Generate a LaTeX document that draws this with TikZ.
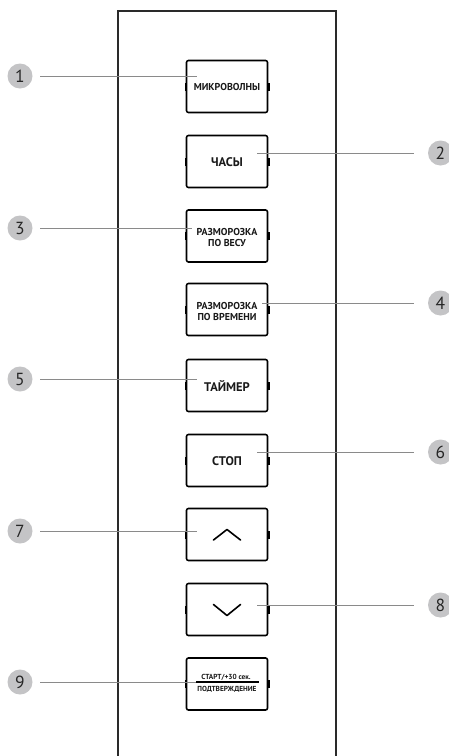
\documentclass[tikz,border=0pt]{standalone}
\usepackage{fontspec}
\setmainfont{PT Sans}
\definecolor{numgray}{HTML}{C4C4C6}
\definecolor{numtext}{HTML}{262626}
\definecolor{linegray}{HTML}{8A8A8A}
\definecolor{panel}{HTML}{2A2A2A}
\begin{document}
\begin{tikzpicture}[x=1pt,y=-1pt,
  btn/.style={draw=black, line width=1.6pt, rounded corners=2pt, minimum width=81pt, minimum height=52pt, inner sep=0pt},
  lbl/.style={font=\bfseries\fontsize{10}{11}\selectfont, align=center, inner sep=0pt, text=black!90},
  biglbl/.style={font=\bfseries\fontsize{12.5}{13}\selectfont, align=center, inner sep=0pt, text=black!90},
  smalllbl/.style={font=\bfseries\fontsize{7.3}{8}\selectfont, inner sep=0pt, text=black!90},
  num/.style={circle, fill=numgray, minimum size=25pt, inner sep=0pt, font=\fontsize{17.5}{17.5}\selectfont, text=numtext},
  callout/.style={draw=linegray, line width=0.9pt},
  chev/.style={draw=black, line width=1.6pt, line cap=round, line join=round}]
\useasboundingbox (0,0) rectangle (449,756);
\fill[white] (0,0) rectangle (449,756);
% panel
\draw[panel, line width=2.6pt] (118,760) -- (118,11) -- (336,11) -- (336,760);
% buttons
\node[btn] (b1) at (227,86.5) {};
\node[btn] (b2) at (227,161.5) {};
\node[btn] (b3) at (227,236) {};
\node[btn] (b4) at (227,309.5) {};
\node[btn] (b5) at (227,385.5) {};
\node[btn] (b6) at (227,460.5) {};
\node[btn] (b7) at (227,534.5) {};
\node[btn] (b8) at (227,609.5) {};
\node[btn] (b9) at (227,684) {};
\foreach \b in {b1,b2,b3,b4,b5,b6,b7,b8,b9}{
  \fill[black] (\b.west) ++(-1.2,-4) rectangle ++(2.4,8);
  \fill[black] (\b.east) ++(-1.2,-4) rectangle ++(2.4,8);
}
% labels
\node[lbl] (t1) at (227,87) {МИКРОВОЛНЫ};
\node[biglbl] (t2) at (227,162) {ЧАСЫ};
\node[lbl] (t3) at (227,237) {РАЗМОРОЗКА\\ПО ВЕСУ};
\node[lbl] (t4) at (227,311) {РАЗМОРОЗКА\\ПО ВРЕМЕНИ};
\node[biglbl] (t5) at (227,386) {ТАЙМЕР};
\node[biglbl] (t6) at (227,461) {СТОП};
\node[smalllbl] (t9a) at (226,677.5) {СТАРТ/+30 сек.};
\node[smalllbl] (t9b) at (227,689) {ПОДТВЕРЖДЕНИЕ};
% chevrons
\coordinate (u1) at (213.5,540);
\coordinate (u2) at (227,529.5);
\coordinate (u3) at (240.5,540);
\draw[chev] (u1) -- (u2) -- (u3);
\coordinate (d1) at (213.5,604.5);
\coordinate (d2) at (227,615.5);
\coordinate (d3) at (240.5,604.5);
\draw[chev] (d1) -- (d2) -- (d3);
% callout circles
\node[num] (n1) at (20,76) {1};
\node[num] (n2) at (440.5,153) {2};
\node[num] (n3) at (20,228) {3};
\node[num] (n4) at (440.5,303) {4};
\node[num] (n5) at (20,379) {5};
\node[num] (n6) at (440.5,452) {6};
\node[num] (n7) at (20,531) {7};
\node[num] (n8) at (440.5,605) {8};
\node[num] (n9) at (20,682) {9};
% callout ends
\coordinate (e1) at (197,76);
\coordinate (e2) at (257,153);
\coordinate (e3) at (192,228);
\coordinate (e4) at (262,303);
\coordinate (e5) at (197,379);
\coordinate (e6) at (257,452);
\coordinate (e7) at (197,531);
\coordinate (e8) at (257,605);
\coordinate (e9) at (197,682);
\draw[callout, shorten <=7.5pt] (n1) -- (e1);
\draw[callout, shorten <=7.5pt] (n3) -- (e3);
\draw[callout, shorten <=7.5pt] (n5) -- (e5);
\draw[callout, shorten <=7.5pt] (n7) -- (e7);
\draw[callout, shorten <=7.5pt] (n9) -- (e9);
\draw[callout, shorten <=14pt] (n2) -- (e2);
\draw[callout, shorten <=14pt] (n4) -- (e4);
\draw[callout, shorten <=14pt] (n6) -- (e6);
\draw[callout, shorten <=14pt] (n8) -- (e8);
% fraction bar in button 9
\coordinate (r1) at (196,682);
\coordinate (r2) at (259,682);
\draw[black, line width=1.3pt] (r1) -- (r2);
\end{tikzpicture}
\end{document}
